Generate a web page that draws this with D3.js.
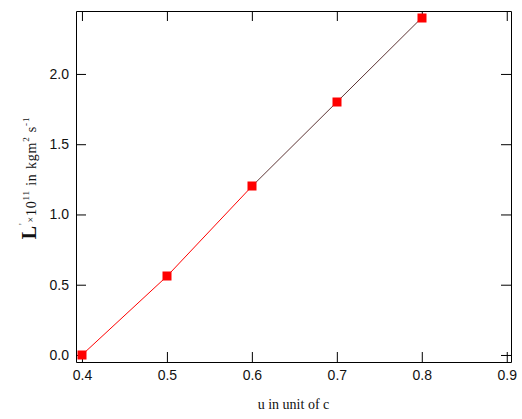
<!DOCTYPE html>
<html>
<head>
<meta charset="utf-8">
<script src="https://cdn.jsdelivr.net/npm/d3@7"></script>
<style>
  html, body { margin: 0; padding: 0; background: #fff; }
  svg { display: block; }
</style>
</head>
<body>
<svg id="chart" width="522" height="419"></svg>
<script>
const uValues = [0.4, 0.5, 0.6, 0.7, 0.8];
const LValues = [0.0, 0.56, 1.2, 1.8, 2.4];
const xTicks = [0.4, 0.5, 0.6, 0.7, 0.8, 0.9];
const yTicks = [0.0, 0.5, 1.0, 1.5, 2.0];
const xDomain = [0.393, 0.905];
const yDomain = [-0.05, 2.448];

(function () {
const svg = d3.select("#chart");
const pl = 76, pr = 511, pt = 11, pb = 362;

const x = d3.scaleLinear().domain(xDomain).range([pl, pr]);
const y = d3.scaleLinear().domain(yDomain).range([pb, pt]);

const tickFont = "'Liberation Sans', Arial, sans-serif";

function styleAxis(g) {
  g.selectAll("path.domain").attr("stroke", "#000").attr("stroke-width", 1);
  g.selectAll(".tick line").attr("stroke", "#000").attr("stroke-width", 1);
  g.selectAll(".tick text").attr("fill", "#111").attr("font-family", tickFont).attr("font-size", 14);
}

svg.append("g").attr("transform", `translate(0,${pb})`)
  .call(d3.axisBottom(x).tickValues(xTicks).tickSize(-10).tickSizeOuter(0).tickPadding(8).tickFormat(d3.format(".1f")))
  .call(styleAxis);

svg.append("g").attr("transform", `translate(0,${pt})`)
  .call(d3.axisTop(x).tickValues(xTicks).tickSize(-10).tickSizeOuter(0).tickFormat(""))
  .call(styleAxis);

svg.append("g").attr("transform", `translate(${pl},0)`)
  .call(d3.axisLeft(y).tickValues(yTicks).tickSize(-10).tickSizeOuter(0).tickPadding(7).tickFormat(d3.format(".1f")))
  .call(styleAxis);

svg.append("g").attr("transform", `translate(${pr},0)`)
  .call(d3.axisRight(y).tickValues(yTicks).tickSize(-10).tickSizeOuter(0).tickFormat(""))
  .call(styleAxis);

const pts = uValues.map((u, i) => [u, LValues[i]]);
const line = d3.line().x(d => x(d[0])).y(d => y(d[1]));

svg.append("path").datum(pts.slice(0, 3))
  .attr("d", line).attr("fill", "none").attr("stroke", "#ff0000").attr("stroke-width", 1);
svg.append("path").datum(pts.slice(2))
  .attr("d", line).attr("fill", "none").attr("stroke", "#300").attr("stroke-width", 0.8);

const ms = 9;
svg.append("g").selectAll("rect").data(pts).join("rect")
  .attr("x", d => Math.round(x(d[0])) - ms / 2)
  .attr("y", d => Math.round(y(d[1])) - ms / 2)
  .attr("width", ms).attr("height", ms)
  .attr("fill", "#ff0000");

const serif = "'Liberation Serif', 'Times New Roman', serif";

svg.append("text")
  .attr("x", (pl + pr) / 2).attr("y", 409)
  .attr("text-anchor", "middle")
  .attr("font-family", serif).attr("font-size", 14).attr("fill", "#111")
  .text("u in unit of c");

const yl = svg.append("text")
  .attr("transform", "translate(36,178) rotate(-90)")
  .attr("text-anchor", "middle")
  .attr("letter-spacing", 0.8)
  .attr("font-family", serif).attr("font-size", 14).attr("fill", "#111");
yl.append("tspan").attr("font-size", 20).attr("font-weight", "bold").text("L");
yl.append("tspan").attr("font-size", 10).attr("dy", -10).text("'");
yl.append("tspan").attr("font-size", 10).attr("dy", 8).text("×");
yl.append("tspan").attr("dy", 2).text("10");
yl.append("tspan").attr("font-size", 9).attr("dy", -7).text("11");
yl.append("tspan").attr("dy", 7).text(" in kgm");
yl.append("tspan").attr("font-size", 9).attr("dy", -7).text("2");
yl.append("tspan").attr("dy", 7).text(" s");
yl.append("tspan").attr("font-size", 9).attr("dy", -7).text("-1");
})();
</script>
</body>
</html>
